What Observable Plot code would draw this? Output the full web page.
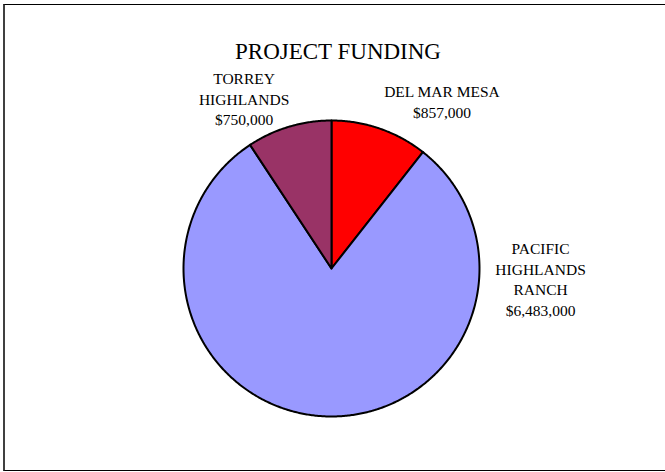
<!DOCTYPE html>
<html><head><meta charset="utf-8">
<script src="https://cdn.jsdelivr.net/npm/d3@7"></script>
<script src="https://cdn.jsdelivr.net/npm/@observablehq/plot@0.6"></script>
<style>
html,body{margin:0;padding:0;background:#fff;}
#wrap{position:relative;width:665px;height:472px;overflow:hidden;}
#border{position:absolute;left:3px;top:4px;width:720px;height:467px;border-left:2px solid #404040;border-top:1px solid #000;border-bottom:1px solid #000;box-sizing:border-box;}
#wrap svg{position:absolute;left:0;top:0;}
</style></head><body><div id="wrap"><div id="border"></div></div>
<script>
// Data
const title = "PROJECT FUNDING";
const categories = ["DEL MAR MESA", "PACIFIC HIGHLANDS RANCH", "TORREY HIGHLANDS"];
const values = [857000, 6483000, 750000];
const labelLines = [["DEL MAR MESA"], ["PACIFIC", "HIGHLANDS", "RANCH"], ["TORREY", "HIGHLANDS"]];
const colors = ["#FF0000", "#9999FF", "#993366"];

// Layout
const W = 665, H = 472, cx = 331, cy = 268, R = 148;
const labelPolar = [
  {angle: 33.4, dist: 1.356},
  {angle: 92.7, dist: 1.414},
  {angle: 332.8, dist: 1.292}
];

const fmt = d3.format("$,");
const arcs = d3.pie().sort(null).value(d => d)(values);

const pts = [];
arcs.forEach((a, i) => {
  const k = categories[i];
  pts.push({k, x: 0, y: 0});
  const n = Math.max(2, Math.ceil((a.endAngle - a.startAngle) / (Math.PI / 360)));
  for (let j = 0; j <= n; j++) {
    const t = a.startAngle + (a.endAngle - a.startAngle) * j / n;
    pts.push({k, x: Math.sin(t), y: Math.cos(t)});
  }
  pts.push({k, x: 0, y: 0});
});

const labels = categories.map((k, i) => {
  const t = labelPolar[i].angle * Math.PI / 180;
  return {
    k,
    x: Math.sin(t) * labelPolar[i].dist,
    y: Math.cos(t) * labelPolar[i].dist,
    text: labelLines[i].join("\n") + "\n" + fmt(values[i])
  };
});

const font = "'Liberation Serif', 'Times New Roman', Times, serif";

const chart = Plot.plot({
  width: W,
  height: H,
  margin: 0,
  style: {fontFamily: font, background: "transparent"},
  x: {domain: [-cx / R, (W - cx) / R], axis: null},
  y: {domain: [-(H - cy) / R, cy / R], axis: null},
  color: {domain: categories, range: colors},
  marks: [
    Plot.line(pts, {x: "x", y: "y", z: "k", fill: "k", stroke: "black", strokeWidth: 2, strokeLinejoin: "round"}),
    Plot.text(labels, {x: "x", y: "y", text: "text", fontSize: 15.5, lineHeight: 20.5 / 15.5, fill: "black"}),
    Plot.text([title], {text: d => d, frameAnchor: "top", dy: 42, dx: 5, fontSize: 23, fill: "black"})
  ]
});
document.getElementById("wrap").appendChild(chart);
</script>
</body></html>
